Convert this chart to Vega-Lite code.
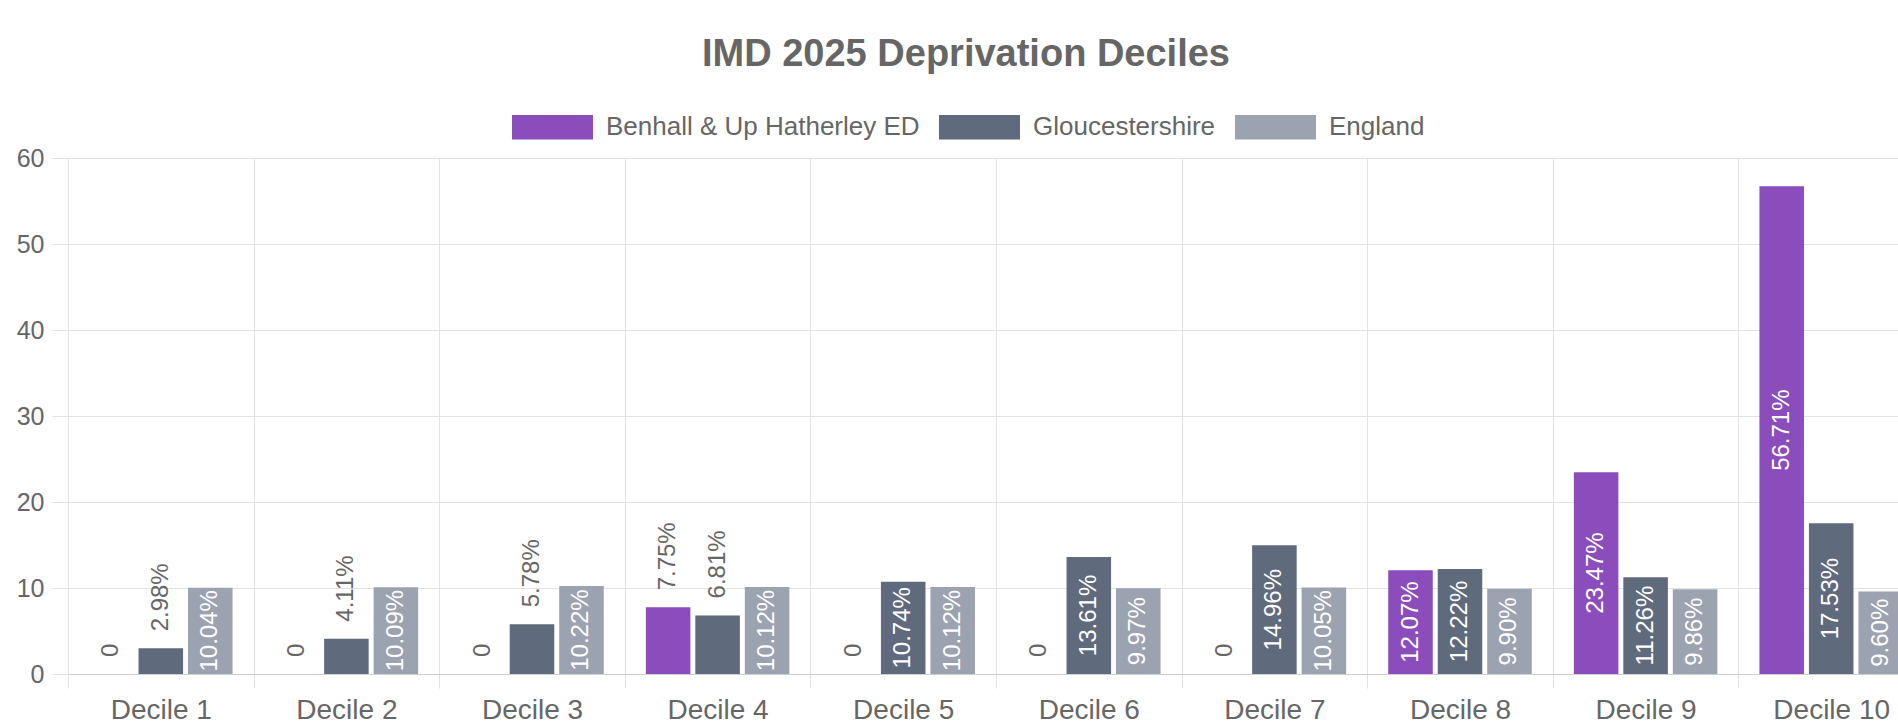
{
  "$schema": "https://vega.github.io/schema/vega-lite/v6.json",
  "autosize": {"type": "none"},
  "width": 1830,
  "height": 516,
  "padding": {"left": 68, "top": 158, "right": 0, "bottom": 53},
  "background": "white",
  "config": {
    "font": "Liberation Sans",
    "view": {"stroke": null}
  },
  "title": {
    "text": "IMD 2025 Deprivation Deciles",
    "font": "Liberation Sans",
    "fontSize": 38,
    "fontWeight": "bold",
    "color": "#666666",
    "anchor": "middle",
    "dx": -17,
    "offset": 13
  },
  "data": {
    "values": [
      {"decile": "Decile 1", "series": "Benhall & Up Hatherley ED", "value": 0, "label": "0"},
      {"decile": "Decile 1", "series": "Gloucestershire", "value": 2.98, "label": "2.98%"},
      {"decile": "Decile 1", "series": "England", "value": 10.04, "label": "10.04%"},
      {"decile": "Decile 2", "series": "Benhall & Up Hatherley ED", "value": 0, "label": "0"},
      {"decile": "Decile 2", "series": "Gloucestershire", "value": 4.11, "label": "4.11%"},
      {"decile": "Decile 2", "series": "England", "value": 10.09, "label": "10.09%"},
      {"decile": "Decile 3", "series": "Benhall & Up Hatherley ED", "value": 0, "label": "0"},
      {"decile": "Decile 3", "series": "Gloucestershire", "value": 5.78, "label": "5.78%"},
      {"decile": "Decile 3", "series": "England", "value": 10.22, "label": "10.22%"},
      {"decile": "Decile 4", "series": "Benhall & Up Hatherley ED", "value": 7.75, "label": "7.75%"},
      {"decile": "Decile 4", "series": "Gloucestershire", "value": 6.81, "label": "6.81%"},
      {"decile": "Decile 4", "series": "England", "value": 10.12, "label": "10.12%"},
      {"decile": "Decile 5", "series": "Benhall & Up Hatherley ED", "value": 0, "label": "0"},
      {"decile": "Decile 5", "series": "Gloucestershire", "value": 10.74, "label": "10.74%"},
      {"decile": "Decile 5", "series": "England", "value": 10.12, "label": "10.12%"},
      {"decile": "Decile 6", "series": "Benhall & Up Hatherley ED", "value": 0, "label": "0"},
      {"decile": "Decile 6", "series": "Gloucestershire", "value": 13.61, "label": "13.61%"},
      {"decile": "Decile 6", "series": "England", "value": 9.97, "label": "9.97%"},
      {"decile": "Decile 7", "series": "Benhall & Up Hatherley ED", "value": 0, "label": "0"},
      {"decile": "Decile 7", "series": "Gloucestershire", "value": 14.96, "label": "14.96%"},
      {"decile": "Decile 7", "series": "England", "value": 10.05, "label": "10.05%"},
      {"decile": "Decile 8", "series": "Benhall & Up Hatherley ED", "value": 12.07, "label": "12.07%"},
      {"decile": "Decile 8", "series": "Gloucestershire", "value": 12.22, "label": "12.22%"},
      {"decile": "Decile 8", "series": "England", "value": 9.9, "label": "9.90%"},
      {"decile": "Decile 9", "series": "Benhall & Up Hatherley ED", "value": 23.47, "label": "23.47%"},
      {"decile": "Decile 9", "series": "Gloucestershire", "value": 11.26, "label": "11.26%"},
      {"decile": "Decile 9", "series": "England", "value": 9.86, "label": "9.86%"},
      {"decile": "Decile 10", "series": "Benhall & Up Hatherley ED", "value": 56.71, "label": "56.71%"},
      {"decile": "Decile 10", "series": "Gloucestershire", "value": 17.53, "label": "17.53%"},
      {"decile": "Decile 10", "series": "England", "value": 9.6, "label": "9.60%"}
    ]
  },
  "encoding": {
    "x": {
      "field": "decile",
      "type": "nominal",
      "sort": ["Decile 1", "Decile 2", "Decile 3", "Decile 4", "Decile 5", "Decile 6", "Decile 7", "Decile 8", "Decile 9", "Decile 10"],
      "scale": {"range": [0, 1856], "paddingInner": 0, "paddingOuter": 0},
      "axis": {
        "title": null,
        "labelAngle": 0,
        "labelFont": "Liberation Sans",
        "labelFontSize": 28,
        "labelColor": "#666666",
        "labelPadding": 8,
        "tickBand": "extent",
        "grid": true,
        "gridColor": "#e3e3e3",
        "tickColor": "#e3e3e3",
        "tickSize": 14,
        "domainColor": "#d0d0d0"
      }
    },
    "xOffset": {
      "field": "series",
      "type": "nominal",
      "sort": ["Benhall & Up Hatherley ED", "Gloucestershire", "England"],
      "scale": {"paddingInner": 0.1, "paddingOuter": 0.425}
    }
  },
  "layer": [
    {
      "mark": {"type": "bar"},
      "encoding": {
        "y": {
          "field": "value",
          "type": "quantitative",
          "scale": {"domain": [0, 60], "nice": false},
          "axis": {
            "title": null,
            "values": [0, 10, 20, 30, 40, 50, 60],
            "labelFont": "Liberation Sans",
            "labelFontSize": 25,
            "labelColor": "#666666",
            "labelPadding": 8,
            "tickSize": 16,
            "tickColor": "#e3e3e3",
            "grid": true,
            "gridColor": "#e3e3e3",
            "domainColor": "#e3e3e3"
          }
        },
        "color": {
          "field": "series",
          "type": "nominal",
          "sort": ["Benhall & Up Hatherley ED", "Gloucestershire", "England"],
          "scale": {
            "domain": ["Benhall & Up Hatherley ED", "Gloucestershire", "England"],
            "range": ["#8c4dbc", "#5f6a7d", "#9ca3b0"]
          },
          "legend": {
            "title": null,
            "orient": "none",
            "direction": "horizontal",
            "legendX": 444,
            "legendY": -71.5,
            "symbolType": "M-1,-0.3H1V0.3H-1Z",
            "symbolSize": 6561,
            "symbolStrokeWidth": 0,
            "symbolOpacity": 1,
            "labelFont": "Liberation Sans",
            "labelFontSize": 26,
            "labelColor": "#666666",
            "labelOffset": 13,
            "labelLimit": 600,
            "columnPadding": 19
          }
        }
      }
    },
    {
      "transform": [{"filter": "datum.value < 9"}],
      "mark": {
        "type": "text",
        "angle": 270,
        "align": "left",
        "baseline": "middle",
        "dx": 17,
        "font": "Liberation Sans",
        "fontSize": 24,
        "color": "#666666"
      },
      "encoding": {
        "y": {
          "field": "value",
          "type": "quantitative",
          "scale": {"domain": [0, 60], "nice": false},
          "axis": null
        },
        "text": {"field": "label", "type": "nominal"}
      }
    },
    {
      "transform": [{"filter": "datum.value >= 9"}],
      "mark": {
        "type": "text",
        "angle": 270,
        "align": "center",
        "baseline": "middle",
        "font": "Liberation Sans",
        "fontSize": 24,
        "color": "white"
      },
      "encoding": {
        "y": {
          "field": "value",
          "type": "quantitative",
          "scale": {"domain": [0, 120], "nice": false},
          "axis": null
        },
        "text": {"field": "label", "type": "nominal"}
      }
    }
  ],
  "resolve": {"scale": {"y": "independent"}}
}
